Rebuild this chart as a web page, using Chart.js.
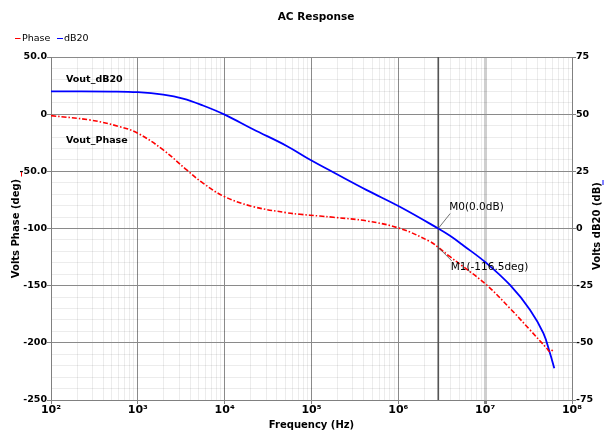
<!DOCTYPE html>
<html>
<head>
<meta charset="utf-8">
<script src="https://cdn.jsdelivr.net/npm/chart.js@4.4.1/dist/chart.umd.min.js"></script>
<style>
html,body{margin:0;padding:0;background:#fff;}
#wrap{width:606px;height:432px;}
</style>
</head>
<body>
<div id="wrap"><canvas id="c" width="606" height="432"></canvas></div>
<script>
// ---- data ----
const phaseFreqHz = [100, 281, 624, 1000, 1963, 3656, 5675, 1e4, 2.14e4, 5.18e4, 7.38e4, 1.25e5, 1.78e5, 4.33e5, 1.04e6, 2.33e6, 2.88e6, 3.94e6, 5.6e6, 1.04e7, 1.93e7, 3.29e7, 5.12e7, 5.58e7, 6.2e7];
const phaseDeg    = [-1.3, -5.1, -11, -16.7, -31.3, -48.8, -60.5, -72.2, -80.9, -86.2, -87.6, -89.1, -90.2, -93.4, -99.9, -111.5, -116.5, -124.7, -133.4, -149.4, -169.8, -188.8, -204.8, -207.8, -204.8];
const gainFreqHz  = [100, 500, 1000, 1963, 3311, 5623, 1e4, 2.12e4, 5.18e4, 1e5, 1.78e5, 4.33e5, 1.04e6, 2.88e6, 3.94e6, 5.6e6, 1.04e7, 1.93e7, 3.29e7, 4.68e7, 5.58e7, 6.25e7];
const gainDb      = [60, 59.9, 59.6, 58.5, 56.8, 53.8, 49.8, 43.4, 36.1, 29.7, 24.6, 16.8, 9.5, 0, -3.2, -7.4, -15.2, -24.7, -35.6, -45.8, -54.6, -61.1];

const xTickLabels     = ['10\u00B2','10\u00B3','10\u2074','10\u2075','10\u2076','10\u2077','10\u2078'];
const phaseTicks      = [50, 0, -50, -100, -150, -200, -250];
const phaseTickLabels = ['50.0', '0', '-50.0', '-100', '-150', '-200', '-250'];
const dbTicks         = [75, 50, 25, 0, -25, -50, -75];
const dbTickLabels    = ['75', '50', '25', '0', '-25', '-50', '-75'];

const markerFreqHz = 2.88e6;
const markerDb = 0.0;
const markerPhase = -116.5;
const highlightFreqHz = 1e7;

// ---- styles ----
const MAJOR = '#8a8a8a';
const MINOR = 'rgba(0,0,0,0.075)';
const FONT = 'DejaVu Sans';
const tickFont = {family: FONT, size: 9.5, weight: 'bold'};

function isDecade(v){ const e = Math.log10(v); return Math.abs(e - Math.round(e)) < 1e-9; }

const overlay = {
  id: 'overlay',
  beforeDatasetsDraw(chart){
    const {ctx, chartArea, scales} = chart;
    const x = scales.x.getPixelForValue(markerFreqHz);
    ctx.save();
    ctx.strokeStyle = '#505050';
    ctx.lineWidth = 1.5;
    ctx.beginPath();
    ctx.moveTo(x, chartArea.top);
    ctx.lineTo(x, chartArea.bottom);
    ctx.stroke();
    ctx.restore();
  },
  afterDraw(chart){
    const {ctx, chartArea, scales} = chart;
    ctx.save();
    ctx.fillStyle = '#000';
    ctx.textBaseline = 'middle';
    // title
    ctx.font = 'bold 10.5px "' + FONT + '"';
    ctx.textAlign = 'center';
    ctx.fillText('AC Response', 316, 17);
    // legend
    ctx.font = '9.5px "' + FONT + '"';
    ctx.textAlign = 'left';
    ctx.lineWidth = 1;
    ctx.strokeStyle = '#ff0000';
    ctx.beginPath(); ctx.moveTo(15, 38.5); ctx.lineTo(20.5, 38.5); ctx.stroke();
    ctx.fillText('Phase', 22, 38.5);
    ctx.strokeStyle = '#0000ff';
    ctx.beginPath(); ctx.moveTo(57, 38.5); ctx.lineTo(63, 38.5); ctx.stroke();
    ctx.fillText('dB20', 64, 38.5);
    // curve labels
    ctx.font = 'bold 9.5px "' + FONT + '"';
    ctx.fillText('Vout_dB20', chartArea.left + 15, 79.5);
    ctx.fillText('Vout_Phase', chartArea.left + 15, 140.5);
    // markers
    const mx = scales.x.getPixelForValue(markerFreqHz);
    const y0 = scales.y1.getPixelForValue(markerDb);
    const y1 = scales.y.getPixelForValue(markerPhase);
    ctx.strokeStyle = '#505050';
    ctx.lineWidth = 0.8;
    ctx.beginPath(); ctx.moveTo(mx, y0); ctx.lineTo(mx + 12, y0 - 15); ctx.stroke();
    ctx.beginPath(); ctx.moveTo(mx, y1); ctx.lineTo(mx + 13.5, y1 + 13.5); ctx.stroke();
    ctx.font = '10.5px "' + FONT + '"';
    ctx.fillText('M0(' + markerDb.toFixed(1) + 'dB)', mx + 11, y0 - 21);
    ctx.fillText('M1(' + markerPhase.toFixed(1) + 'deg)', mx + 12.5, y1 + 20);
    // right axis title (rotated like the left one)
    ctx.font = 'bold 10px "' + FONT + '"';
    ctx.translate(597, 226);
    ctx.rotate(-Math.PI / 2);
    ctx.textAlign = 'center';
    ctx.fillText('Volts dB20 (dB)', 0, 0);
    ctx.restore();
    // small series marks next to axis titles
    ctx.save();
    ctx.lineWidth = 1;
    ctx.strokeStyle = '#ff0000';
    ctx.beginPath(); ctx.moveTo(21.5, 172); ctx.lineTo(21.5, 176.5); ctx.stroke();
    ctx.strokeStyle = '#0000ff';
    ctx.beginPath(); ctx.moveTo(603, 180); ctx.lineTo(603, 185); ctx.stroke();
    ctx.restore();
  }
};

new Chart(document.getElementById('c'), {
  type: 'line',
  data: {
    datasets: [
      {
        label: 'Phase',
        data: phaseFreqHz.map((f, i) => ({x: f, y: phaseDeg[i]})),
        yAxisID: 'y',
        borderColor: '#ff0000',
        borderWidth: 1.6,
        borderDash: [5, 2, 1.5, 2],
        pointRadius: 0,
        tension: 0.4,
        fill: false
      },
      {
        label: 'dB20',
        data: gainFreqHz.map((f, i) => ({x: f, y: gainDb[i]})),
        yAxisID: 'y1',
        borderColor: '#0000ff',
        borderWidth: 1.8,
        pointRadius: 0,
        tension: 0.4,
        fill: false
      }
    ]
  },
  options: {
    responsive: false,
    animation: false,
    devicePixelRatio: 1,
    layout: {padding: {top: 57, left: 0, right: 0, bottom: 0}},
    plugins: {legend: {display: false}, title: {display: false}, tooltip: {enabled: false}},
    scales: {
      x: {
        type: 'logarithmic',
        position: 'bottom',
        min: 100,
        max: 1e8,
        afterBuildTicks(s){
          const t = [];
          for (let e = 2; e < 8; e++) for (let m = 1; m < 10; m++) t.push({value: m * Math.pow(10, e)});
          t.push({value: 1e8});
          s.ticks = t;
        },
        afterFit(s){ s.height = 32; },
        ticks: {
          autoSkip: false, maxRotation: 0, minRotation: 0, padding: 0, color: '#000',
          font: {family: FONT, size: 11, weight: 'bold'},
          callback(v){ return isDecade(v) ? xTickLabels[Math.round(Math.log10(v)) - 2] : ''; }
        },
        grid: {
          color: c => (c.tick && Math.abs(c.tick.value - highlightFreqHz) < 1) ? '#cfcfcf' : (c.tick && isDecade(c.tick.value) ? MAJOR : MINOR),
          lineWidth: c => (c.tick && Math.abs(c.tick.value - highlightFreqHz) < 1) ? 3 : 1,
          tickLength: 4,
          tickColor: c => (c.tick && isDecade(c.tick.value)) ? '#808080' : 'rgba(0,0,0,0)'
        },
        border: {color: '#808080', width: 1},
        title: {display: true, text: 'Frequency (Hz)', color: '#000', font: {family: FONT, size: 10, weight: 'bold'}, padding: {top: 0, bottom: 1}}
      },
      y: {
        type: 'linear',
        position: 'left',
        min: -250,
        max: 50,
        afterBuildTicks(s){
          const t = [];
          for (let v = -250; v <= 50; v += 10) t.push({value: v});
          s.ticks = t;
        },
        afterFit(s){ s.width = 51; },
        ticks: {
          autoSkip: false, padding: 0, color: '#000', font: tickFont,
          callback(v){ const i = phaseTicks.indexOf(v); return i >= 0 ? phaseTickLabels[i] : ''; }
        },
        grid: {
          color: c => (c.tick && c.tick.value % 50 === 0) ? MAJOR : MINOR,
          tickLength: 4,
          tickColor: c => (c.tick && c.tick.value % 50 === 0) ? '#808080' : 'rgba(0,0,0,0)'
        },
        border: {color: '#808080', width: 1},
        title: {display: true, text: 'Volts Phase (deg)', color: '#000', font: {family: FONT, size: 10, weight: 'bold'}, padding: {top: 10, bottom: 0}}
      },
      y1: {
        type: 'linear',
        position: 'right',
        min: -75,
        max: 75,
        afterBuildTicks(s){
          const t = [];
          for (let v = -75; v <= 75; v += 5) t.push({value: v});
          s.ticks = t;
        },
        afterFit(s){ s.width = 34; },
        ticks: {
          autoSkip: false, padding: 0, color: '#000', font: tickFont,
          callback(v){ const i = dbTicks.indexOf(v); return i >= 0 ? dbTickLabels[i] : ''; }
        },
        grid: {
          drawOnChartArea: false,
          tickLength: 4,
          tickColor: c => (c.tick && c.tick.value % 25 === 0) ? '#808080' : 'rgba(0,0,0,0)'
        },
        border: {color: '#808080', width: 1}
      }
    }
  },
  plugins: [overlay]
});
</script>
</body>
</html>
